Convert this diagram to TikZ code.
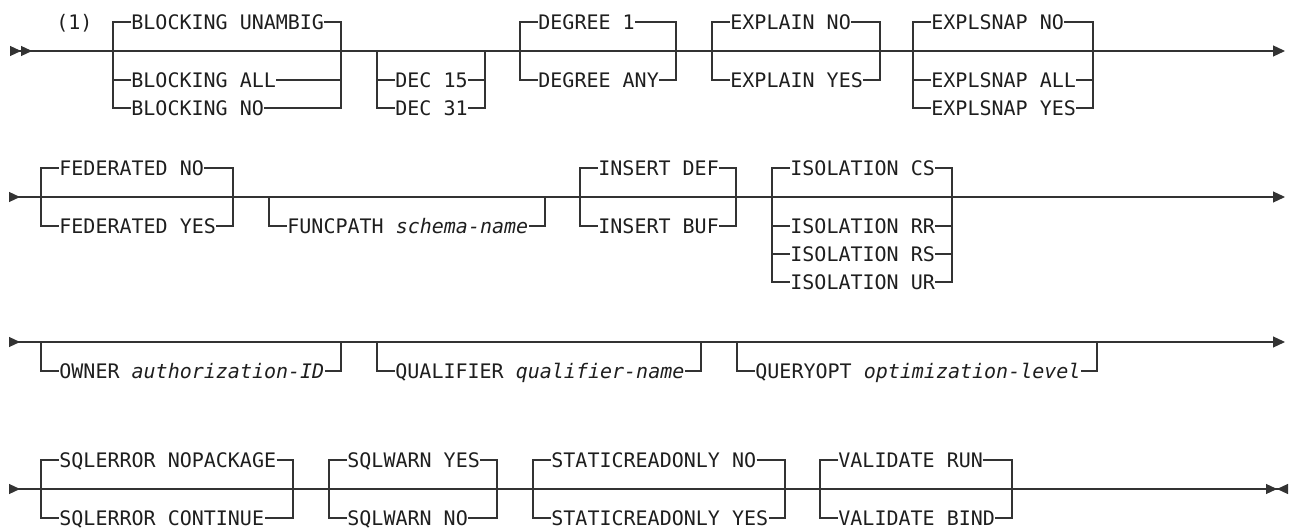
\documentclass[tikz,border=0pt]{standalone}
\usepackage{fontspec}
\newfontfamily\railfont{DejaVu Sans Mono}
\definecolor{rail}{HTML}{333333}
\definecolor{ink}{HTML}{1E1E1E}
\usepackage{tikz}
\usetikzlibrary{calc, positioning, arrows.meta}

\begin{document}
\begin{tikzpicture}[
  x=0.5pt, y=-0.5pt,
  line/.style={draw=rail, line width=0.6pt},
  opt/.style={anchor=west, inner sep=0pt, text height=7.3pt, text depth=0pt,
              font=\railfont\fontsize{10}{12}\selectfont, text=ink},
]
\useasboundingbox (0,0) rectangle (1291,529);

% row 1
\coordinate (r1s) at (10,51);
\coordinate (r1e) at (1285,51);
\draw[line, {Triangle[reversed,length=5.5pt,width=5pt]Triangle[reversed,length=5.5pt,width=5pt]}-{Triangle[length=6pt,width=5.5pt]}] (r1s) -- (r1e);
\node[opt] (note) at (56,22) {(1)};

\coordinate (blkL) at (113,51);
\coordinate (blkR) at (341,51);
\node[opt] (blkU) at (131,22) {BLOCKING UNAMBIG};
\node[opt] (blkA) at (131,80) {BLOCKING ALL};
\node[opt] (blkN) at (131,108) {BLOCKING NO};
\draw[line] (blkU.west) -| (blkL) |- (blkN.west);
\draw[line] (blkA.west) -- (blkA.west -| blkL);
\draw[line] (blkU.east) -| (blkR) |- (blkN.east);
\draw[line] (blkA.east) -- (blkA.east -| blkR);

\coordinate (decL) at (377,51);
\coordinate (decR) at (485,51);
\node[opt] (dec15) at (395,80) {DEC 15};
\node[opt] (dec31) at (395,108) {DEC 31};
\draw[line] (decL) |- (dec31.west);
\draw[line] (dec15.west) -- (dec15.west -| decL);
\draw[line] (decR) |- (dec31.east);
\draw[line] (dec15.east) -- (dec15.east -| decR);

\coordinate (degL) at (520,51);
\coordinate (degR) at (676,51);
\node[opt] (deg1) at (538,22) {DEGREE 1};
\node[opt] (degAny) at (538,80) {DEGREE ANY};
\draw[line] (deg1.west) -| (degL) |- (degAny.west);
\draw[line] (deg1.east) -| (degR) |- (degAny.east);

\coordinate (expL) at (712,51);
\coordinate (expR) at (880,51);
\node[opt] (expNo) at (730,22) {EXPLAIN NO};
\node[opt] (expYes) at (730,80) {EXPLAIN YES};
\draw[line] (expNo.west) -| (expL) |- (expYes.west);
\draw[line] (expNo.east) -| (expR) |- (expYes.east);

\coordinate (snapL) at (913,51);
\coordinate (snapR) at (1093,51);
\node[opt] (snapNo) at (931,22) {EXPLSNAP NO};
\node[opt] (snapAll) at (931,80) {EXPLSNAP ALL};
\node[opt] (snapYes) at (931,108) {EXPLSNAP YES};
\draw[line] (snapNo.west) -| (snapL) |- (snapYes.west);
\draw[line] (snapAll.west) -- (snapAll.west -| snapL);
\draw[line] (snapNo.east) -| (snapR) |- (snapYes.east);
\draw[line] (snapAll.east) -- (snapAll.east -| snapR);

% row 2
\coordinate (r2s) at (9,197);
\coordinate (r2e) at (1285,197);
\draw[line, {Triangle[reversed,length=5.5pt,width=5pt]}-{Triangle[length=6pt,width=5.5pt]}] (r2s) -- (r2e);

\coordinate (fedL) at (41,197);
\coordinate (fedR) at (233,197);
\node[opt] (fedNo) at (59,168) {FEDERATED NO};
\node[opt] (fedYes) at (59,226) {FEDERATED YES};
\draw[line] (fedNo.west) -| (fedL) |- (fedYes.west);
\draw[line] (fedNo.east) -| (fedR) |- (fedYes.east);

\coordinate (funcL) at (269,197);
\coordinate (funcR) at (545,197);
\node[opt] (func) at (287,226) {FUNCPATH \textit{schema-name}};
\draw[line] (funcL) |- (func.west);
\draw[line] (funcR) |- (func.east);

\coordinate (insL) at (580,197);
\coordinate (insR) at (736,197);
\node[opt] (insDef) at (598,168) {INSERT DEF};
\node[opt] (insBuf) at (598,226) {INSERT BUF};
\draw[line] (insDef.west) -| (insL) |- (insBuf.west);
\draw[line] (insDef.east) -| (insR) |- (insBuf.east);

\coordinate (isoL) at (772,197);
\coordinate (isoR) at (952,197);
\node[opt] (isoCS) at (790,168) {ISOLATION CS};
\node[opt] (isoRR) at (790,226) {ISOLATION RR};
\node[opt] (isoRS) at (790,254) {ISOLATION RS};
\node[opt] (isoUR) at (790,282) {ISOLATION UR};
\draw[line] (isoCS.west) -| (isoL) |- (isoUR.west);
\draw[line] (isoRR.west) -- (isoRR.west -| isoL);
\draw[line] (isoRS.west) -- (isoRS.west -| isoL);
\draw[line] (isoCS.east) -| (isoR) |- (isoUR.east);
\draw[line] (isoRR.east) -- (isoRR.east -| isoR);
\draw[line] (isoRS.east) -- (isoRS.east -| isoR);

% row 3
\coordinate (r3s) at (9,342);
\coordinate (r3e) at (1285,342);
\draw[line, {Triangle[reversed,length=5.5pt,width=5pt]}-{Triangle[length=6pt,width=5.5pt]}] (r3s) -- (r3e);

\coordinate (ownL) at (41,342);
\coordinate (ownR) at (341,342);
\node[opt] (own) at (59,371) {OWNER \textit{authorization-ID}};
\draw[line] (ownL) |- (own.west);
\draw[line] (ownR) |- (own.east);

\coordinate (qualL) at (377,342);
\coordinate (qualR) at (701,342);
\node[opt] (qual) at (395,371) {QUALIFIER \textit{qualifier-name}};
\draw[line] (qualL) |- (qual.west);
\draw[line] (qualR) |- (qual.east);

\coordinate (qoptL) at (737,342);
\coordinate (qoptR) at (1097,342);
\node[opt] (qopt) at (755,371) {QUERYOPT \textit{optimization-level}};
\draw[line] (qoptL) |- (qopt.west);
\draw[line] (qoptR) |- (qopt.east);

% row 4
\coordinate (r4s) at (9,489);
\coordinate (r4e) at (1288,489);
\draw[line, {Triangle[reversed,length=5.5pt,width=5pt]}-{Triangle[length=5.5pt,width=5pt]Triangle[reversed,length=5.5pt,width=5pt]}] (r4s) -- (r4e);

\coordinate (errL) at (41,489);
\coordinate (errR) at (293,489);
\node[opt] (errNo) at (59,460) {SQLERROR NOPACKAGE};
\node[opt] (errCont) at (59,518) {SQLERROR CONTINUE};
\draw[line] (errNo.west) -| (errL) |- (errCont.west);
\draw[line] (errNo.east) -| (errR) |- (errCont.east);

\coordinate (warnL) at (329,489);
\coordinate (warnR) at (497,489);
\node[opt] (warnYes) at (347,460) {SQLWARN YES};
\node[opt] (warnNo) at (347,518) {SQLWARN NO};
\draw[line] (warnYes.west) -| (warnL) |- (warnNo.west);
\draw[line] (warnYes.east) -| (warnR) |- (warnNo.east);

\coordinate (statL) at (533,489);
\coordinate (statR) at (785,489);
\node[opt] (statNo) at (551,460) {STATICREADONLY NO};
\node[opt] (statYes) at (551,518) {STATICREADONLY YES};
\draw[line] (statNo.west) -| (statL) |- (statYes.west);
\draw[line] (statNo.east) -| (statR) |- (statYes.east);

\coordinate (valL) at (820,489);
\coordinate (valR) at (1012,489);
\node[opt] (valRun) at (838,460) {VALIDATE RUN};
\node[opt] (valBind) at (838,518) {VALIDATE BIND};
\draw[line] (valRun.west) -| (valL) |- (valBind.west);
\draw[line] (valRun.east) -| (valR) |- (valBind.east);
\end{tikzpicture}
\end{document}
